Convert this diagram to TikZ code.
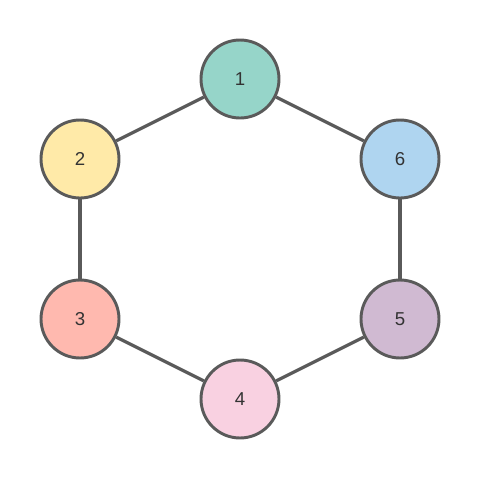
\documentclass[tikz,border=0pt]{standalone}
\usepackage{fontspec}
\setmainfont{Liberation Sans}
\definecolor{edgec}{HTML}{5A5A5A}
\definecolor{txtc}{HTML}{333333}
\definecolor{c1}{HTML}{96D5C9}
\definecolor{c2}{HTML}{FFEAA8}
\definecolor{c3}{HTML}{FFB9AF}
\definecolor{c4}{HTML}{F9D1E1}
\definecolor{c5}{HTML}{D0BAD2}
\definecolor{c6}{HTML}{AFD5F0}
\begin{document}
\begin{tikzpicture}[x=0.75pt,y=-0.75pt,
  vert/.style={circle,draw=edgec,line width=2.2pt,minimum size=58.5pt,inner sep=0pt,font=\fontsize{14}{16}\selectfont,text=txtc},
  link/.style={draw=edgec,line width=2.4pt}]
\useasboundingbox (0,0) rectangle (480,480);
\node[vert,fill=c1] (n1) at (240,79) {1};
\node[vert,fill=c2] (n2) at (80,159) {2};
\node[vert,fill=c6] (n6) at (400,159) {6};
\node[vert,fill=c3] (n3) at (80,319) {3};
\node[vert,fill=c5] (n5) at (400,319) {5};
\node[vert,fill=c4] (n4) at (240,399) {4};
\draw[link] (n1) -- (n2);
\draw[link] (n1) -- (n6);
\draw[link] (n2) -- (n3);
\draw[link] (n6) -- (n5);
\draw[link] (n3) -- (n4);
\draw[link] (n4) -- (n5);
\end{tikzpicture}
\end{document}
